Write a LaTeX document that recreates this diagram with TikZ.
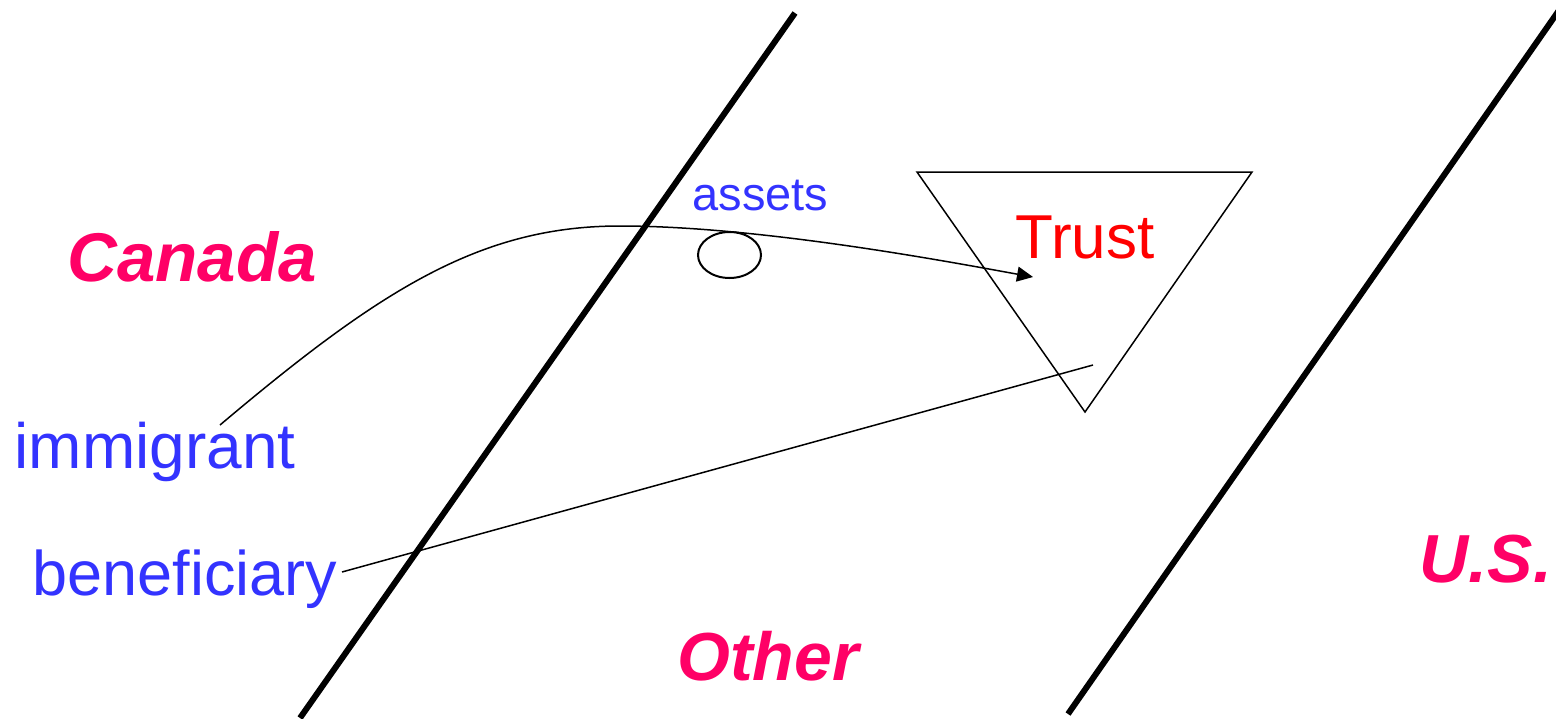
\documentclass[tikz,border=0pt]{standalone}
\usepackage{fontspec}
\setmainfont{Liberation Sans}
\usetikzlibrary{arrows.meta,shapes.geometric}
\definecolor{country}{RGB}{255, 0, 102}
\definecolor{party}{RGB}{51, 51, 255}
\definecolor{trustred}{RGB}{255, 0, 0}

\begin{document}
\begin{tikzpicture}[x=1pt, y=-1pt,
  border/.style={line width=6pt, black},
  thin/.style={line width=1.5pt, black},
  place/.style={anchor=base, inner sep=0pt, text=country,
                font=\fontsize{68}{80}\selectfont\bfseries\itshape},
  who/.style={anchor=base, inner sep=0pt, text=party,
              font=\fontsize{64}{76}\selectfont},
  arr/.style={-{Triangle[length=16pt, width=15pt]}, thin}
]
  \clip (0,0) rectangle (1556,718);

  % borders between countries
  \coordinate (b1s) at (300,718);
  \coordinate (b1e) at (795,13);
  \coordinate (b2s) at (1068,714);
  \coordinate (b2e) at (1562,6);
  \draw[border] (b1s) -- (b1e);
  \draw[border] (b2s) -- (b2e);

  % countries
  \node[place, font=\fontsize{69}{80}\selectfont\bfseries\itshape] (canada) at (192,281) {Canada};
  \node[place] (other)  at (768,680) {Other};
  \node[place] (us)     at (1486,582) {U.S.};

  % people
  \node[who] (immig) at (155,468) {immigrant};
  \node[who, font=\fontsize{63}{75}\selectfont] (benef) at (185,595) {beneficiary};

  % trust
  \coordinate (tl) at (917,172);
  \coordinate (tr) at (1252,172);
  \coordinate (tb) at (1085,412);
  \draw[thin] (tl) -- (tr) -- (tb) -- cycle;
  \node[anchor=base, inner sep=0pt, text=trustred,
        font=\fontsize{62}{72}\selectfont] (trust) at (1085,258) {Trust};

  % assets
  \node[ellipse, draw, line width=2pt, minimum width=63pt, minimum height=46pt,
        inner sep=0pt] (bag) at (729.5,255) {};
  \node[anchor=base, inner sep=0pt, text=party,
        font=\fontsize{47}{55}\selectfont] (assets) at (760.5,210) {assets};

  % transfers
  \coordinate (giftStart) at (220,425);
  \coordinate (giftPeak)  at (620,226);
  \coordinate (giftEnd)   at (1033,277);
  \draw[arr] (giftStart) .. controls (380,290) and (480,226) .. (giftPeak)
                         .. controls (760,226) and (950,262) .. (giftEnd);
  \coordinate (benefStart) at (342,572);
  \coordinate (benefEnd)   at (1093,365);
  \draw[thin] (benefStart) -- (benefEnd);
\end{tikzpicture}
\end{document}
